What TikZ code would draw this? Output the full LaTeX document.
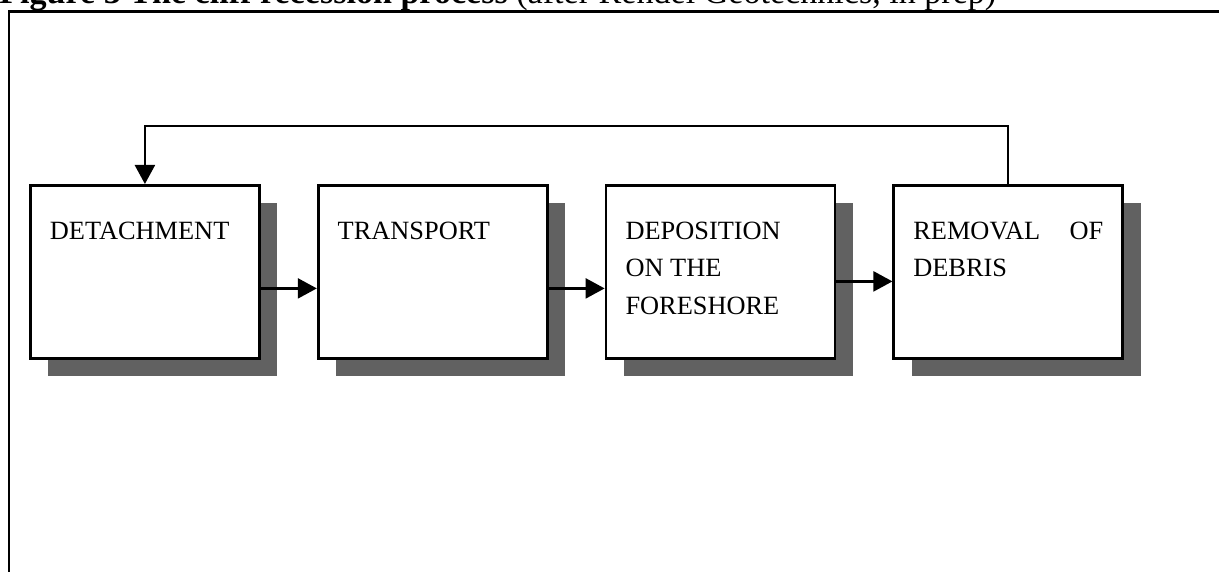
\documentclass[tikz,border=0pt]{standalone}
\usepackage{fontspec}
\setmainfont{Liberation Serif}
\usetikzlibrary{arrows.meta,positioning,shadows}
\tikzset{
  procbox/.style={
    rectangle, draw=black, fill=white, line width=1.6pt,
    minimum width=4.58cm, minimum height=3.46cm,
    inner xsep=0.39cm, inner ysep=0.73cm,
    font=\fontsize{15}{21.3}\selectfont,
    drop shadow={shadow xshift=0.36cm, shadow yshift=-0.35cm,
      fill=black!62, opacity=1}
  },
  flowarrow/.style={
    -{Triangle[length=0.38cm, width=0.4cm]}, line width=1.3pt
  },
  titlenode/.style={
    font=\fontsize{19.4}{23}\selectfont, inner sep=0pt, anchor=base west
  },
}
\newcommand{\procbody}[1]{\parbox[c][2cm][t]{3.8cm}{#1}}

\begin{document}
\begin{tikzpicture}[node distance=1.12cm]
  \useasboundingbox (0,0) rectangle (24.38,-11.44);

  % ── Caption and frame ──────
  \node[titlenode] (title) at (-0.02,-0.07)
    {\textbf{Figure 3 The cliff recession process} (after Rendel Geotechnics, in prep)};
  \draw[line width=1.4pt] (0.18,-11.6) -- (0.18,-0.23) -- (24.6,-0.23);

  % ── Process boxes ──────────
  \node[procbox, anchor=north west] (det) at (0.58,-3.68)
    {\procbody{DETACHMENT}};
  \node[procbox, right=of det] (tra) {\procbody{TRANSPORT}};
  \node[procbox, right=of tra] (dep)
    {\procbody{DEPOSITION\\ON THE\\FORESHORE}};
  \node[procbox, right=of dep] (rem)
    {\procbody{REMOVAL\hfill OF\\DEBRIS}};

  % ── Flow ───────────────────
  \draw[flowarrow] ([yshift=-0.33cm]det.east) -- ([yshift=-0.33cm]tra.west);
  \draw[flowarrow] ([yshift=-0.33cm]tra.east) -- ([yshift=-0.33cm]dep.west);
  \draw[flowarrow] ([yshift=-0.19cm]dep.east) -- ([yshift=-0.19cm]rem.west);
  \draw[flowarrow] (rem.north) -- ++(0,1.16) -| (det.north);
\end{tikzpicture}
\end{document}
